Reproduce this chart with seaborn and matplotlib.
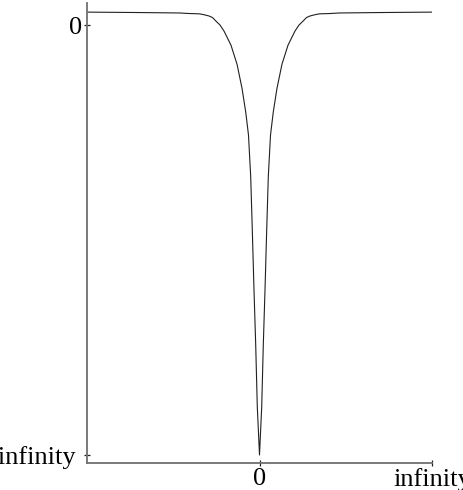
import matplotlib
matplotlib.use("Agg")
import matplotlib.pyplot as plt
import matplotlib.transforms as mtransforms
import seaborn as sns
import pandas as pd

# Curve sampled on compactified axes: x in [-1, 1] maps (-inf, inf), y = -1 is -infinity
x_vals = [-1.0, -0.6957, -0.4638, -0.4058, -0.3478, -0.3188, -0.2928, -0.2725,
          -0.2522, -0.2290, -0.2058, -0.1652, -0.1304, -0.1014, -0.0800,
          -0.0638, -0.0510, -0.0417, -0.0319, -0.0220, -0.0128, -0.0058, 0.0,
          0.0058, 0.0128, 0.0220, 0.0319, 0.0417, 0.0510, 0.0638, 0.0800,
          0.1014, 0.1304, 0.1652, 0.2058, 0.2290, 0.2522, 0.2725, 0.2928,
          0.3188, 0.3478, 0.4058, 0.4638, 0.6957, 1.0]
y_vals = [0.030, 0.029, 0.028, 0.0267, 0.026, 0.0237, 0.021, 0.0174,
          0.009, 0.0, -0.014, -0.047, -0.091, -0.147, -0.202,
          -0.256, -0.353, -0.477, -0.616, -0.744, -0.888, -0.949, -1.0,
          -0.949, -0.888, -0.744, -0.616, -0.477, -0.353, -0.256, -0.202,
          -0.147, -0.091, -0.047, -0.014, 0.0, 0.009, 0.0174, 0.021,
          0.0237, 0.026, 0.0267, 0.028, 0.029, 0.030]

x_ticks = [0.0, 1.0]
x_tick_labels = ["0", "infinity"]
y_ticks = [-1.0, 0.0]
y_tick_labels = ["-infinity", "0"]

df = pd.DataFrame({"x": x_vals, "y": y_vals})

sns.set_style("white")
plt.rcParams["font.family"] = ["Liberation Serif", "DejaVu Serif"]

W, H = 463, 490
fig = plt.figure(figsize=(W / 100, H / 100), dpi=100)
ax = fig.add_axes([87 / W, (H - 463) / H, 345 / W, 460 / H])

sns.lineplot(data=df, x="x", y="y", sort=False, estimator=None,
             color="#202020", linewidth=0.8, ax=ax)

ax.set_xlim(-1.0, 1.0)
ax.set_ylim(-1.0186, 0.0512)

for side in ("top", "right"):
    ax.spines[side].set_visible(False)
for side in ("left", "bottom"):
    ax.spines[side].set_color("#707070")
    ax.spines[side].set_linewidth(1.3)

ax.set_xticks(x_ticks)
ax.set_xticklabels(x_tick_labels)
ax.set_yticks(y_ticks)
ax.set_yticklabels(y_tick_labels)
ax.tick_params(axis="both", which="major", bottom=True, left=True,
               direction="inout", length=5, width=0.9,
               color="#202020", labelsize=19, labelcolor="black", pad=1)
ax.set_xlabel("")
ax.set_ylabel("")

# the lower y label sits a little further from its tick
shift = mtransforms.ScaledTranslation(-7 / 100, 0, fig.dpi_scale_trans)
lbl = ax.get_yticklabels()[0]
lbl.set_transform(lbl.get_transform() + shift)

fig.savefig("out.png", dpi=100)
